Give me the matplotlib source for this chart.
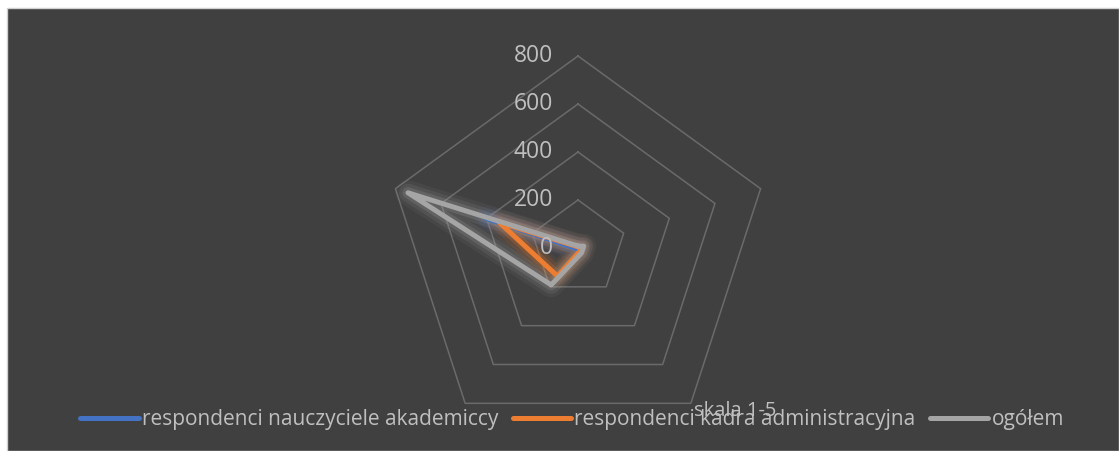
import matplotlib.pyplot as plt
import numpy as np
from matplotlib.lines import Line2D
from matplotlib.patches import Rectangle

# survey results per answer on the 1-5 scale (five radar axes)
categories = ['', '', 'skala 1-5', '', '']
series_names = ['respondenci nauczyciele akademiccy',
                'respondenci kadra administracyjna',
                'ogółem']
teachers = [2, 5, 5, 5, 400]
admin = [5, 15, 15, 145, 345]
total = [8, 25, 25, 190, 745]
ring_values = [0, 200, 400, 600, 800]

colors = ['#4472C4', '#ED7D31', '#A5A5A5']
bg = '#404040'
text_color = '#BFBFBF'
grid_color = '#6A6A6A'

plt.rcParams['font.family'] = ['Open Sans', 'DejaVu Sans']

W, H = 1119, 451
fig = plt.figure(figsize=(W / 100, H / 100), dpi=100, facecolor='white')
fig.patches.append(Rectangle((7 / W, 0), 1 - 7 / W, (H - 8) / H, transform=fig.transFigure,
                             facecolor=bg, edgecolor='#D0D0D0', linewidth=1.0, zorder=-5))

# polar axes sized so that the 800 ring has a 192 px radius around (578, 248)
cx, cy, R = 578, H - 248, 192
ax = fig.add_axes([(cx - R) / W, (cy - R) / H, 2 * R / W, 2 * R / H], projection='polar')
ax.set_facecolor('none')
ax.set_theta_offset(np.pi / 2)
ax.set_theta_direction(-1)
ax.set_ylim(0, 800)
ax.grid(False)
ax.set_xticks([])
ax.set_yticks([])
ax.spines['polar'].set_visible(False)

n = len(categories)
angles = np.linspace(0, 2 * np.pi, n, endpoint=False)
closed = np.append(angles, angles[0])

# pentagon rings
for v in ring_values[1:]:
    ax.plot(closed, [v] * (n + 1), color=grid_color, lw=1.1, clip_on=False, zorder=1)

# value labels up the vertical axis
for v in ring_values:
    ax.annotate(str(v), xy=(0, v), xytext=(-18, 0), textcoords='offset points',
                ha='right', va='center', fontsize=16.5, color=text_color, zorder=5)

# category label(s)
for a, lab in zip(angles, categories):
    if lab:
        ax.annotate(lab, xy=(a, 800), xytext=(2, 2), textcoords='offset points',
                    ha='left', va='top', fontsize=14.5, color=text_color, zorder=5)

# series with a soft glow behind each line
for vals, col in zip([teachers, admin, total], colors):
    r = np.append(vals, vals[0])
    for lw, alpha in [(18, 0.07), (13, 0.12), (8, 0.2)]:
        ax.plot(closed, r, color=col, lw=lw, alpha=alpha, solid_joinstyle='round',
                solid_capstyle='round', clip_on=False, zorder=2)
    ax.plot(closed, r, color=col, lw=3.6, solid_joinstyle='round',
            solid_capstyle='round', clip_on=False, zorder=3)

handles = [Line2D([0], [0], color=c, lw=3.6, solid_capstyle='round') for c in colors]
fig.legend(handles, series_names, loc='center', ncol=3,
           bbox_to_anchor=(572 / W, 31 / H), frameon=False, fontsize=15,
           labelcolor=text_color, handlelength=2.8, handletextpad=0.15,
           columnspacing=0.7)

fig.savefig('out.png', dpi=100, facecolor='white')
